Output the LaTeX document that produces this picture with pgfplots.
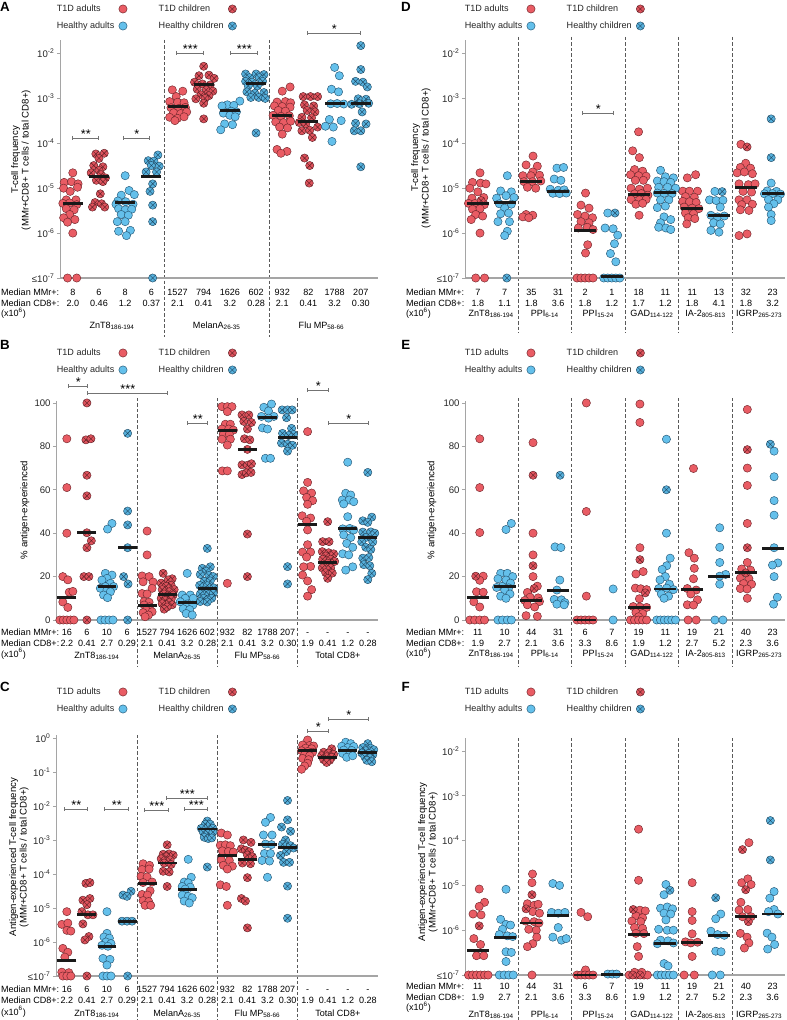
\documentclass[border=0pt]{standalone}
\usepackage{pgfplots}
\pgfplotsset{compat=1.18}
\usepackage{fontspec}
\setmainfont{Liberation Sans}

\definecolor{ta}{RGB}{233,92,100}
\definecolor{taE}{RGB}{115,40,45}
\definecolor{tc}{RGB}{222,82,92}
\definecolor{tcE}{RGB}{90,30,35}
\definecolor{ha}{RGB}{100,192,235}
\definecolor{haE}{RGB}{40,90,120}
\definecolor{hc}{RGB}{86,176,220}
\definecolor{hcE}{RGB}{30,70,95}
\definecolor{axgray}{RGB}{165,165,165}

\newcommand\fs{\fontsize{6.8}{8.2}\selectfont}
\newcommand\fl{\fontsize{7.2}{7.9}\selectfont}
\newcommand\lt[1]{10\textsuperscript{-#1}}

\pgfplotsset{
  panel/.style={
    scale only axis, clip=false, anchor=south west,
    axis x line=bottom, axis y line=left,
    axis line style={-, axgray, line width=1pt},
    every outer x axis line/.append style={-},
    every outer y axis line/.append style={-},
    xtick=\empty,
    tick align=outside, major tick length=3pt,
    tick style={axgray, line width=0.6pt},
    yticklabel style={font=\fl, text=black!85, inner sep=1.5pt},
    legend columns=2, legend plot pos=right, legend cell align=left,
    legend style={draw=none, fill=none, inner sep=0pt, outer sep=0pt,
      font=\fs, text=black!85, row sep=4.25pt, anchor=north west,
      nodes={inner sep=1pt, text height=5pt, text depth=1.5pt},
      /tikz/every odd column/.append style={column sep=2.4pt},
      /tikz/every even column/.append style={column sep=22.7pt}},
    legend image code/.code={\draw[##1] plot coordinates {(0pt,0pt)};},
  },
  sTA/.style={only marks, mark=*, mark size=3.1pt, draw=taE, fill=ta, mark options={line width=0.35pt}},
  sTC/.style={only marks, mark=otimes*, mark size=3.1pt, draw=tcE, fill=tc, mark options={line width=0.3pt}},
  sHA/.style={only marks, mark=*, mark size=3.1pt, draw=haE, fill=ha, mark options={line width=0.35pt}},
  sHC/.style={only marks, mark=otimes*, mark size=3.1pt, draw=hcE, fill=hc, mark options={line width=0.3pt}},
  med/.style={forget plot, only marks, mark=-, mark size=#1, draw=black!90, mark options={line width=2.2pt}},
}

% significance bracket: x1, x2, y (px), stars
\newcommand\brk[4]{%
  \draw[black!55, line width=0.5pt] (#1,#3-2) -- (#1,#3+2) (#1,#3) -- (#2,#3) (#2,#3-2) -- (#2,#3+2);
  \node[anchor=base, font=\fontsize{9.5}{9.5}\selectfont] at ({(#1+#2)/2},#3+0.5) {#4};}
% median rows: x0, dx, baseline y, MMr list, CD8 list, x of row titles
\newcommand\mrows[6]{%
  \foreach \v [count=\i from 0] in {#4} {\node[anchor=base] at (#1+#2*\i,#3) {\v};}
  \foreach \v [count=\i from 0] in {#5} {\node[anchor=base] at (#1+#2*\i,#3+11) {\v};}
  \node[anchor=base west] at (#6,#3) {Median MMr+:};
  \node[anchor=base west] at (#6,#3+11) {Median CD8+:};}

\begin{document}
\begin{tikzpicture}
\begin{scope}[x=0.75pt,y=-0.75pt]
\path[use as bounding box] (0,0) rectangle (786,1020);
\tikzset{dv/.style={black!65, line width=0.55pt, dash pattern=on 2.5pt off 1.6pt}}
% dividers
\foreach \x in {163.6,268.4} \draw[dv] (\x,40) -- (\x,337);
\foreach \x in {136.2,216.5,296.8} \draw[dv] (\x,398) -- (\x,667);
\foreach \x in {136.2,216.5,296.8} \draw[dv] (\x,735) -- (\x,1020);
\foreach \x in {517.2,570.8,624.4,678,731.6} \draw[dv] (\x,37) -- (\x,333);
\foreach \x in {517.2,570.8,624.4,678,731.6} \draw[dv] (\x,398) -- (\x,667);
\foreach \x in {517.2,570.8,624.4,678,731.6} \draw[dv] (\x,738) -- (\x,1020);
\end{scope}

% ---------------- A ----------------
\begin{axis}[panel, at={(45pt,-208.5pt)}, width=237.75pt, height=178.5pt,
  xmin=-0.458, xmax=11.65, ymode=log, ymin=1e-7, ymax=0.02, yminorticks=false,
  ytick={1e-7,1e-6,1e-5,1e-4,1e-3,1e-2},
  yticklabels={≤\lt7,\lt6,\lt5,\lt4,\lt3,\lt2},
  legend style={at={(-0.0167,1.1542)}}]
\addplot[sTA] coordinates {
 (0,2.2e-5)(-0.33,1.35e-5)(-0.05,1.4e-5)(0.2,1.25e-5)(-0.35,1.0e-5)(0.18,1.05e-5)(-0.1,8.5e-6)(-0.25,5.5e-6)(0.12,5.5e-6)(-0.38,4.6e-6)(-0.12,4.7e-6)(0.15,4.3e-6)(-0.25,3.5e-6)(0.05,3.3e-6)(-0.12,2.6e-6)(-0.35,2.2e-6)(0.08,2.0e-6)(-0.2,1.75e-6)(0,1e-6)(-0.2,1e-7)(0.15,1e-7)
 (3.8,1.55e-3)(4.2,1.45e-3)(3.95,1.1e-3)(3.7,8.5e-4)(4,8.2e-4)(4.25,8.0e-4)(3.75,6.2e-4)(4.05,6.0e-4)(4.3,6.3e-4)(3.85,4.8e-4)(4.12,4.6e-4)(4.35,5.0e-4)(3.7,3.8e-4)(4,3.6e-4)(4.25,3.9e-4)(3.9,3.2e-4)
 (8.3,1.8e-3)(8,1.45e-3)(7.8,8.3e-4)(8.12,8.5e-4)(8.32,8.0e-4)(7.7,6.8e-4)(8,6.6e-4)(8.3,6.4e-4)(7.85,5.4e-4)(8.12,5.2e-4)(7.65,4.2e-4)(7.95,4.0e-4)(8.27,4.1e-4)(7.75,3.0e-4)(8.05,2.9e-4)(8.32,3.1e-4)(7.9,2.3e-4)(8.2,2.2e-4)(8,1.6e-4)(7.8,7.3e-5)(8.18,6.6e-5)(7.95,6.0e-5)};
\addlegendentry{T1D adults}
\addplot[sTC] coordinates {
 (0.88,5.8e-5)(1.2,6.0e-5)(1,4.6e-5)(0.8,3.2e-5)(1.15,3.0e-5)(1,2.5e-5)(0.7,2.2e-5)(1.08,2.0e-5)(1.25,1.7e-5)(0.9,1.5e-5)(1.15,1.4e-5)(1.05,7.5e-6)(0.85,4.8e-6)(1.1,4.5e-6)(0.75,3.8e-6)(1.22,3.8e-6)
 (5,5.2e-3)(4.82,3.2e-3)(5.2,3.3e-3)(5.4,2.8e-3)(4.65,2.3e-3)(4.95,2.1e-3)(5.25,2.0e-3)(4.75,1.6e-3)(5.1,1.55e-3)(5.35,1.45e-3)(4.9,1.2e-3)(5.2,1.15e-3)(4.7,9.8e-4)(5.05,1.0e-3)(5,7.8e-4)(5,3.5e-4)
 (8.8,1.1e-3)(9.08,1.1e-3)(9.35,1.1e-3)(8.85,7.2e-4)(9.2,6.8e-4)(8.95,5.4e-4)(9.25,5.0e-4)(8.75,3.8e-4)(9.12,3.7e-4)(8.65,2.9e-4)(8.9,2.7e-4)(8.75,1.9e-4)(9.05,1.95e-4)(9.35,2.3e-4)(9.15,1.35e-4)(8.85,4.7e-5)(9.05,3.2e-5)(9.03,1.3e-5)};
\addlegendentry{T1D children}
\addplot[sHA] coordinates {
 (2,1.9e-5)(2.15,8.9e-6)(1.85,7.0e-6)(2.35,7.2e-6)(1.72,5.2e-6)(2.02,5.0e-6)(1.65,4.4e-6)(2.3,4.4e-6)(1.75,3.5e-6)(2.0,3.3e-6)(2.25,3.4e-6)(1.85,2.6e-6)(2.12,2.5e-6)(1.7,1.8e-6)(2,1.8e-6)(1.75,1.1e-6)(2.2,1.15e-6)(2.05,8.8e-7)
 (6.38,8.7e-4)(5.9,7.2e-4)(6.15,7.0e-4)(5.7,6.8e-4)(6.05,5.2e-4)(6.25,5.0e-4)(5.75,4.7e-4)(6,4.2e-4)(6.2,3.9e-4)(5.8,2.7e-4)(6.1,2.6e-4)(5.65,2.0e-4)
 (10,4.9e-3)(10.18,3.2e-3)(9.88,1.6e-3)(10.15,1.4e-3)(9.85,7.6e-4)(10.1,7.7e-4)(10.35,7.5e-4)(9.8,3.4e-4)(10.25,3.2e-4)(9.65,2.4e-4)(9.95,2.3e-4)(9.9,1.1e-4)};
\addlegendentry{Healthy adults}
\addplot[sHC] coordinates {
 (3.25,5.5e-5)(2.88,4.1e-5)(3.1,4.0e-5)(3,3.2e-5)(3.3,3.1e-5)(2.8,2.3e-5)(3.2,2.3e-5)(3.05,1.25e-5)(2.95,8.5e-6)(3.05,4.2e-6)(3.05,1.8e-6)(3.05,1e-7)
 (6.6,3.5e-3)(7,3.5e-3)(7.3,3.4e-3)(6.75,2.9e-3)(7.12,2.9e-3)(6.6,2.4e-3)(6.85,2.3e-3)(7.25,2.4e-3)(6.7,1.9e-3)(7.05,1.9e-3)(6.65,1.4e-3)(6.95,1.3e-3)(7.3,1.35e-3)(6.8,1.05e-3)(7.1,1.05e-3)(7.35,1.0e-3)(7,1.7e-4)
 (11,1.5e-2)(11,4.4e-3)(10.8,2.4e-3)(11.08,2.3e-3)(11.25,1.8e-3)(10.9,9.8e-4)(11.2,9.6e-4)(10.65,7.4e-4)(10.95,7.6e-4)(11.3,7.8e-4)(11.05,5.0e-4)(10.8,2.8e-4)(11.2,2.7e-4)(10.75,1.9e-4)(11,1.9e-4)(11,3.0e-5)};
\addlegendentry{Healthy children}
\addplot[med=7.5pt] coordinates {(0,4.5e-6)(1,1.8e-5)(2,4.7e-6)(3,1.8e-5)(4,6.5e-4)(5,2.0e-3)(6,5.3e-4)(7,2.1e-3)(8,4.2e-4)(9,3.1e-4)(10,7.7e-4)(11,7.7e-4)};
\end{axis}

% ---------------- B ----------------
\begin{axis}[panel, at={(42pt,-465pt)}, width=240.75pt, height=164.25pt,
  xmin=-0.5, xmax=15.5, ymin=0, ymax=100.9,
  ytick={0,20,40,60,80,100}, yticklabels={0,20,40,60,80,100},
  legend style={at={(-0.004,1.2452)}}]
\addplot[sTA] coordinates {
 (0,83.5)(0,61)(0,40)(-0.2,20)(0.05,18.5)(0.12,12.8)(0.3,13.2)(-0.2,8.3)(0.05,5.8)(-0.35,0)(-0.18,0)(0,0)(0.18,0)(0.35,0)
 (4,41)(4,30)(3.75,20.3)(4.1,20)(4.3,17.5)(3.8,17.6)(4.25,14.6)(3.75,12.2)(4,12)(3.85,8.5)(4.1,8.2)(3.85,6.9)(4.12,6.1)(3.95,4.6)(4.25,3.8)(3.8,3.4)(4.07,2.3)(3.9,1.5)
 (7.73,98.3)(8,98.3)(8.23,98.3)(8,96)(7.9,90.2)(8.15,90.2)(7.73,88)(8.07,88)(8.3,87.5)(7.8,85.6)(8.1,85.6)(7.73,83.3)(8.15,83.3)(8,80.6)(7.75,68.7)(8,68.7)(8,16.9)
 (12,86.8)(12,63.4)(11.8,59.5)(12.2,58.5)(11.95,56.5)(12.25,55)(12,53.3)(11.73,48)(12.15,47)(11.95,45.5)(12,41.5)(12,34.7)(11.75,31.3)(12.15,31.3)(11.95,29)(12.15,24.7)(11.8,24.5)(11.75,20.7)(12,18)(12.2,14)(12,11)};
\addlegendentry{T1D adults}
\addplot[sTC] coordinates {
 (1,100)(0.95,83)(1.2,83.5)(1,66.7)(1,57.2)(1,40.2)(1.22,36.5)(1,33.3)(0.85,20)(1.1,20)(1,0)
 (4.8,21.5)(5.25,19)(5.05,18.5)(4.7,17)(5.2,16)(4.95,15.5)(5.35,14)(4.75,14)(5.1,13)(4.85,12)(5.3,11.5)(5,11)(4.7,10)(5.2,9.5)(4.9,9)(5.1,8)(4.75,7.5)(5.25,7)(5,6)(4.85,5)
 (8.73,94.5)(9.07,94.5)(8.82,91.5)(9.2,91)(9,88)(8.85,83.5)(9.12,83)(9,78.6)(8.73,71.5)(9,71.3)(9.2,72)(8.73,67)(8.95,67.8)(9.18,68)(9,39.6)(9,20)
 (13,45.3)(12.75,36.1)(13.07,36.1)(12.73,31.5)(13.05,31)(13.3,30.5)(12.9,29.5)(12.75,28)(13.15,28)(13.35,27)(13,26.2)(12.73,24)(13.15,24)(12.9,21.8)(13.23,21.6)(13,19.2)};
\addlegendentry{T1D children}
\addplot[sHA] coordinates {
 (2.25,44.5)(2.03,41.9)(1.92,21.5)(2.25,20.7)(2,19.2)(1.75,18.4)(2.17,16.9)(1.92,15.4)(2.33,15.4)(1.67,14.6)(2,13.8)(2.17,13)(1.83,11.5)(2.03,10.3)(1.7,0)(1.9,0)(2.1,0)(2.3,0)
 (6,21.5)(5.75,11.5)(6.15,11.5)(5.9,10)(6.3,10)(5.65,8.4)(6,7.4)(6.28,6.9)(5.8,5.2)(6.12,4.8)(5.95,3)(6.25,2.3)
 (10.2,99.5)(9.82,98)(10.05,96.3)(9.7,93.8)(10.32,93.8)(10.05,93)(9.75,88.5)(10,88)(9.9,74.5)(10.15,74.5)
 (14,72.7)(13.9,58.4)(14.15,57.6)(13.73,55.3)(14.07,55.3)(14.3,54.5)(13.8,53.5)(14,47.6)(13.75,42)(14.1,42.2)(14.3,41.5)(13.8,39.2)(14.15,38)(13.95,35.3)(14.25,33.5)(13.75,30.5)(14.05,30)(14.25,24.5)(13.9,23)};
\addlegendentry{Healthy adults}
\addplot[sHC] coordinates {
 (3.03,86)(3.03,50.2)(3.03,43.8)(3.03,33.3)(2.83,20)(3.05,16.6)(3.03,0)
 (7,33)(7.15,24.5)(6.75,23.8)(6.95,22.5)(6.65,21)(7.08,20.5)(7.3,20)(6.85,17.8)(7.15,18)(6.62,16)(7,15.8)(7.32,14.8)(6.85,13.8)(6.65,12)(7.08,11.8)(7.3,12.3)(6.82,10)(7.22,10)(6.65,8.5)(7,8.3)
 (10.73,96.8)(11,96.8)(11.23,96.8)(10.95,93.2)(11.2,88.3)(10.75,86)(11.3,85.5)(11.05,85)(10.7,81.5)(11,81)(11.25,80.5)(11,77.8)(11,24.6)(11,16.6)
 (15,68)(14.75,45.7)(15.2,47.4)(15,45)(14.75,40.5)(15.15,40.6)(15.35,40)(14.9,38)(14.7,36)(15.25,36)(14.9,33.5)(15.15,32.5)(14.75,28.5)(15.05,28.8)(14.8,25.5)(15.1,25)(15.2,21.5)(15,18.6)};
\addlegendentry{Healthy children}
\addplot[med=7.1pt] coordinates {(0,10.5)(1,40.3)(2,15.6)(3,33.3)(4,6.6)(5,11.7)(6,8)(7,14.6)(8,87.5)(9,78.5)(10,93.4)(11,84)(12,44)(13,26.4)(14,42)(15,37.8)};
\end{axis}

% ---------------- C ----------------
\begin{axis}[panel, at={(42pt,-732pt)}, width=240.75pt, height=180.75pt,
  xmin=-0.5, xmax=15.5, ymode=log, ymin=1e-7, ymax=1.22, yminorticks=false,
  ytick={1e-7,1e-6,1e-5,1e-4,1e-3,1e-2,1e-1,1},
  yticklabels={≤\lt7,\lt6,\lt5,\lt4,\lt3,\lt2,\lt1,10\textsuperscript{0}},
  legend style={at={(-0.004,1.2021)}}]
\addplot[sTA] coordinates {
 (0,7.8e-6)(-0.25,3.3e-6)(0.05,3.6e-6)(0,2.2e-6)(0.2,2.1e-6)(-0.2,6.5e-7)(0.05,5e-7)(-0.1,3.6e-7)(-0.25,1.3e-7)(0.1,1.25e-7)(-0.2,1e-7)(0,1e-7)(0.2,1e-7)
 (3.8,2.0e-4)(4.12,1.8e-4)(3.75,1.35e-4)(4.1,1.4e-4)(3.7,8.5e-5)(4,8.2e-5)(3.8,5.6e-5)(4.25,5.8e-5)(4.15,3.2e-5)(3.75,2.5e-5)(4.02,2.4e-5)(3.8,1.65e-5)(4.08,1.55e-5)(3.9,1.2e-5)(4.18,1.2e-5)
 (7.7,1.6e-3)(8,1.4e-3)(7.65,7e-4)(7.9,7.2e-4)(8.15,6.8e-4)(7.75,4.8e-4)(8.05,4.6e-4)(8.3,4.4e-4)(7.7,2.6e-4)(8.1,2.5e-4)(7.8,1.8e-4)(8.25,1.7e-4)(8,1.4e-4)(7.65,4.8e-5)(7.95,4.3e-5)(8,1.2e-5)
 (12,0.87)(11.75,0.62)(12.1,0.6)(12.3,0.58)(11.9,0.5)(12.2,0.48)(11.7,0.42)(12,0.4)(12.25,0.38)(11.85,0.32)(12.1,0.3)(11.75,0.25)(12.05,0.23)(12,0.18)(11.85,0.15)(11.7,0.12)};
\addlegendentry{T1D adults}
\addplot[sTC] coordinates {
 (0.95,5.3e-5)(1.15,5.6e-5)(0.8,1.7e-5)(1.15,1.9e-5)(1,1.25e-5)(0.75,7.8e-6)(1.05,6.3e-6)(1.3,6.3e-6)(0.8,3.4e-6)(1.1,1.45e-6)(0.9,1.15e-6)(1,1e-7)
 (5,7.2e-4)(4.8,3.8e-4)(5.1,3.9e-4)(5.3,3.6e-4)(4.95,3.2e-4)(4.7,2.8e-4)(5.15,2.6e-4)(4.85,2.1e-4)(5.2,1.9e-4)(4.8,1.2e-4)(5.1,1.15e-4)(5,4.3e-5)
 (8.8,1.0e-3)(9.18,8.5e-4)(8.7,5.5e-4)(8.9,5.0e-4)(9.1,4.5e-4)(9,3.6e-4)(9.25,3.2e-4)(8.75,2.1e-4)(9.15,2.0e-4)(9,7.8e-5)(8.7,1.9e-5)(8.9,1.6e-5)(9,2.6e-6)
 (13.2,0.48)(12.8,0.38)(13.05,0.36)(13.3,0.33)(12.7,0.3)(12.95,0.28)(13.2,0.27)(12.8,0.23)(13.1,0.22)(12.95,0.19)};
\addlegendentry{T1D children}
\addplot[sHA] coordinates {
 (2,7.8e-6)(2,1.8e-6)(1.85,1.4e-6)(2.12,1.3e-6)(1.95,1.0e-6)(2.2,9e-7)(1.75,8e-7)(2.05,7.5e-7)(1.8,3.3e-7)(2.15,3.1e-7)(2,2.1e-7)(1.8,1e-7)(2,1e-7)(2.2,1e-7)
 (6.05,2.7e-4)(6.2,8.0e-5)(5.85,5.8e-5)(6.05,5.5e-5)(5.75,4.3e-5)(6.15,4.1e-5)(5.9,3.6e-5)(5.75,2.4e-5)(6.05,2.2e-5)(6.25,2.0e-5)(5.85,1.6e-5)(6.1,1.4e-5)
 (10.15,4.6e-3)(9.9,3.3e-3)(9.8,1.4e-3)(10.23,1.4e-3)(9.9,7.6e-4)(10.2,7.3e-4)(9.85,4.0e-4)(10.15,4.0e-4)(9.73,2.5e-4)(10.1,2.4e-4)(10,8e-5)
 (13.9,0.75)(14.15,0.68)(13.7,0.57)(14,0.52)(14.3,0.56)(13.8,0.44)(14.2,0.43)(13.75,0.35)(14.1,0.34)(13.95,0.27)(14.25,0.3)};
\addlegendentry{Healthy adults}
\addplot[sHC] coordinates {
 (3.2,3.1e-5)(2.8,2.4e-5)(3,2.2e-5)(2.75,4.1e-6)(3,4.1e-6)(3.25,4.1e-6)(3.03,1e-7)
 (7,3.6e-3)(6.9,2.9e-3)(7.15,2.9e-3)(6.7,2.2e-3)(7.28,2.2e-3)(6.8,1.7e-3)(7.05,1.6e-3)(7.28,1.7e-3)(6.85,1.2e-3)(7.05,1.1e-3)(7.22,1.15e-3)(7,1.6e-4)
 (11,1.45e-2)(11,3.9e-3)(10.7,2.4e-3)(11.15,1.8e-3)(10.9,1.0e-3)(10.75,7.5e-4)(11.15,6.8e-4)(11.3,5.8e-4)(10.95,4.6e-4)(10.65,3.5e-4)(10.8,2.2e-4)(11.1,2.2e-4)(11,4.4e-5)(11,5e-6)
 (15,0.68)(14.75,0.52)(15.15,0.5)(15.3,0.45)(14.9,0.42)(14.7,0.36)(15.05,0.35)(15.25,0.32)(14.85,0.28)(15.1,0.26)(14.95,0.22)(15.2,0.2)};
\addlegendentry{Healthy children}
\addplot[med=7.1pt] coordinates {(0,2.8e-7)(1,6.3e-6)(2,7.3e-7)(3,4.1e-6)(4,5.4e-5)(5,2.1e-4)(6,3.4e-5)(7,2.1e-3)(8,3.5e-4)(9,2.65e-4)(10,7.4e-4)(11,6e-4)(12,0.44)(13,0.27)(14,0.44)(15,0.38)};
\end{axis}

% ---------------- D ----------------
\begin{axis}[panel, at={(348.75pt,-208.5pt)}, width=239.25pt, height=178.5pt,
  xmin=-0.45, xmax=11.46, ymode=log, ymin=1e-7, ymax=0.02, yminorticks=false,
  ytick={1e-7,1e-6,1e-5,1e-4,1e-3,1e-2},
  yticklabels={≤\lt7,\lt6,\lt5,\lt4,\lt3,\lt2},
  legend style={at={(-0.0072,1.1542)}}]
\addplot[sTA] coordinates {
 (0.08,2.2e-5)(-0.2,1.35e-5)(0.1,1.3e-5)(0.3,1.25e-5)(-0.3,1.0e-5)(0,8.3e-6)(-0.22,6e-6)(0.22,6.2e-6)(-0.35,4.6e-6)(-0.1,4.6e-6)(0.24,4.3e-6)(-0.2,3.4e-6)(0.08,3.5e-6)(-0.08,2.6e-6)(0.18,2.4e-6)(-0.25,2.0e-6)(0.08,1.0e-6)(-0.08,1e-7)(0.25,1e-7)
 (2.06,5.2e-5)(1.8,3.3e-5)(2.22,3.1e-5)(2.05,2.3e-5)(1.68,1.9e-5)(1.98,1.9e-5)(2.3,1.95e-5)(1.72,1.4e-5)(2.04,1.4e-5)(2.35,1.45e-5)(1.85,1.05e-5)(2.16,1.0e-5)(1.8,2.6e-6)(2.05,2.5e-6)(1.68,2.3e-6)(1.9,2.2e-6)
 (4.02,7.8e-6)(3.85,4.2e-6)(4.15,3.6e-6)(3.72,2.6e-6)(4,2.4e-6)(4.28,2.2e-6)(3.85,1.8e-6)(4.15,1.7e-6)(3.75,1.3e-6)(4.08,1.35e-6)(4.3,1.2e-6)(4.1,5.5e-7)(4.02,3.6e-7)(3.7,1e-7)(3.85,1e-7)(4,1e-7)(4.15,1e-7)(4.3,1e-7)
 (6,1.8e-4)(5.78,6.8e-5)(6.03,4.8e-5)(5.85,2.6e-5)(6.15,2.4e-5)(5.7,2.0e-5)(6,1.9e-5)(6.28,1.85e-5)(5.88,1.5e-5)(6.18,1.5e-5)(5.72,1.0e-5)(6.03,9.5e-6)(6.33,1.0e-5)(5.85,7.5e-6)(6.1,7.6e-6)(6.35,7.0e-6)(5.72,5.6e-6)(6.03,5.5e-6)(6.28,5.6e-6)(5.9,4.4e-6)(6.15,4.6e-6)(6.02,2.5e-6)
 (8.13,2.0e-5)(7.82,1.7e-5)(7.65,8.6e-6)(7.9,8.6e-6)(8.2,8.6e-6)(7.75,6.5e-6)(8.08,6.3e-6)(7.65,5.1e-6)(7.9,5.0e-6)(8.15,4.8e-6)(7.7,3.8e-6)(8,3.6e-6)(8.25,3.5e-6)(7.75,2.8e-6)(8.05,2.7e-6)(7.85,2.2e-6)(8.1,2.1e-6)(7.8,1.6e-6)
 (9.82,9.5e-5)(10,3.6e-5)(9.8,2.9e-5)(10.18,2.8e-5)(9.68,2.2e-5)(9.95,2.3e-5)(10.25,2.1e-5)(9.75,1.25e-5)(10.1,1.2e-5)(10.35,1.25e-5)(9.9,8.5e-6)(10.22,8.2e-6)(9.75,5.5e-6)(10.05,5.5e-6)(9.85,4.3e-6)(10.25,4.4e-6)(9.8,3.3e-6)(10.12,3.2e-6)(9.75,8.8e-7)(10.05,9.6e-7)};
\addlegendentry{T1D adults}
\addplot[sTC] coordinates {(0.12,5.3e-6)(10.05,8.3e-5)};
\addlegendentry{T1D children}
\addplot[sHA] coordinates {
 (1.1,1.9e-5)(0.85,8.7e-6)(1.25,8.3e-6)(1.05,6.8e-6)(0.7,6e-6)(1.35,6.2e-6)(0.8,4.5e-6)(1.25,4.4e-6)(1,3.6e-6)(0.85,2.7e-6)(1.15,2.8e-6)(0.75,1.8e-6)(1.18,1.8e-6)(1.1,1.1e-6)(1,8.8e-7)
 (2.95,2.8e-5)(3.2,2.9e-5)(2.85,1.6e-5)(3.1,1.5e-5)(2.7,9.5e-6)(3,9e-6)(3.22,9.2e-6)(2.8,7.7e-6)(3.05,7.6e-6)(3.3,7.8e-6)
 (4.75,1.3e-6)(5.05,1.25e-6)(5.22,9e-7)(5.1,5.8e-7)(4.95,3.5e-7)(5.15,2.3e-7)(4.7,1e-7)(4.85,1e-7)(5,1e-7)(5.15,1e-7)(5.3,1e-7)(4.85,2.8e-6)
 (6.82,2.5e-5)(7,1.8e-5)(7.3,1.7e-5)(6.7,1.45e-5)(6.95,1.4e-5)(7.2,1.35e-5)(6.75,1.05e-5)(7.08,1.05e-5)(7.38,1.0e-5)(6.7,7.8e-6)(6.95,7.7e-6)(7.25,7.6e-6)(6.82,5.5e-6)(7.13,5.5e-6)(7,4.0e-6)(6.7,3.7e-6)(6.95,2.3e-6)(7.2,2.0e-6)(6.82,1.7e-6)(6.75,1.35e-6)(7.02,1.3e-6)(7.2,1.2e-6)
 (8.85,8.5e-6)(8.65,5.5e-6)(8.9,5.3e-6)(9.15,5.4e-6)(9.05,3.8e-6)(8.7,2.5e-6)(8.95,2.3e-6)(9.2,2.4e-6)(8.8,1.7e-6)(9.05,1.6e-6)(8.7,1.15e-6)(9,1.05e-6)
 (10.95,1.3e-5)(10.8,8.7e-6)(11.15,8.5e-6)(10.7,7.5e-6)(11,7.6e-6)(11.3,7.4e-6)(10.85,5.6e-6)(11.2,5.5e-6)(11.05,4.5e-6)(10.85,3.8e-6)(10.95,2.6e-6)(10.95,1.9e-6)};
\addlegendentry{Healthy adults}
\addplot[sHC] coordinates {(1.08,1e-7)(5.12,2.8e-6)(9.12,8.4e-6)(10.95,3.5e-4)(10.95,4.8e-5)};
\addlegendentry{Healthy children}
\addplot[med=8.25pt] coordinates {(0,4.5e-6)(1,4.7e-6)(2,1.4e-5)(3,8.5e-6)(4,1.15e-6)(5,1.1e-7)(6,7.2e-6)(7,8.1e-6)(8,3.6e-6)(9,2.5e-6)(10,1.05e-5)(11,7.7e-6)};
\end{axis}

% ---------------- E ----------------
\begin{axis}[panel, at={(348.75pt,-465pt)}, width=239.25pt, height=164.25pt,
  xmin=-0.45, xmax=11.46, ymin=0, ymax=100.9,
  ytick={0,20,40,60,80,100}, yticklabels={0,20,40,60,80,100},
  legend style={at={(-0.0072,1.2452)}}]
\addplot[sTA] coordinates {
 (0.07,83.5)(0.07,61)(0.07,40.3)(0.2,20.2)(0.07,18.3)(-0.05,13)(0.2,12.8)(-0.15,8.4)(0.07,6)(-0.3,0)(-0.12,0)(0.07,0)(0.25,0)
 (2.06,81.7)(2.06,40)(2.06,30)(2.06,20)(2.22,15.6)(1.85,12.7)(1.95,10.5)(2.25,10.2)(1.75,9)(2.3,8.5)(1.85,7)(2.12,6)(1.8,2)(2.22,1.7)
 (4.05,100)(4.05,50)(4.05,11)(3.7,0)(3.85,0)(4,0)(4.15,0)(4.3,0)
 (6.05,99.5)(6.05,91)(6.05,33.3)(6.17,22.3)(5.9,21.2)(5.88,14.7)(6.08,14.4)(6.3,14)(6.03,9.8)(5.8,6.2)(6.05,6)(6.3,5.8)(5.9,3.5)(6.15,3)(6,1.5)(5.7,0)(5.85,0)(6,0)(6.15,0)(6.3,0)
 (8.05,69.8)(7.88,31)(8.08,28.5)(8.08,23.8)(8.05,19)(7.82,14.5)(8.15,13.8)(7.95,12)(8.2,9.3)(7.82,7)(8.05,6.9)(7.85,0)(8.15,0)
 (10.06,97)(10.06,70)(10.06,62)(10.06,44.5)(10.06,26.5)(9.85,23.5)(10.18,23)(9.8,19.3)(10.12,19)(9.92,16.8)(10.22,16.5)(9.8,14.5)(10.05,14.3)(10.06,10)};
\addlegendentry{T1D adults}
\addplot[sTC] coordinates {(-0.08,20.2)(2.06,66.7)(2.06,25)(2.1,14.5)(6.05,27.8)(6.25,12.5)(10.06,78.5)(10.06,33.3)(10,21.7)};
\addlegendentry{T1D children}
\addplot[sHA] coordinates {
 (1.05,41.7)(1.25,44.5)(0.85,21.5)(1.1,21.5)(1.3,20)(0.75,19)(1.05,18.4)(1.22,17)(0.9,15.5)(0.7,15)(1.15,14.8)(1,13.8)(1.2,12)(0.85,11)(1.05,10)(0.75,0)(0.92,0)(1.1,0)(1.25,0)
 (2.88,33.7)(3.1,33.4)(3.06,18.4)(2.95,13.8)(2.85,9.5)(3.12,9.3)(3.25,8)(2.95,7.3)(3.22,7)
 (5.05,14.3)(5.05,0)
 (7.04,83.3)(7.04,40)(7.18,28.5)(7.05,25)(6.88,23.3)(7,20)(6.8,18.5)(7.15,16.5)(6.75,14.5)(7.05,14.7)(7.3,14)(6.85,12)(7.12,11)(6.95,10)(6.68,0)(6.82,0)(6.96,0)(7.1,0)(7.24,0)(7.38,0)
 (9.03,42.5)(9.03,33.5)(9.03,26.5)(9.25,21)(9.03,20.2)(9.03,16.5)(8.85,0)(9.15,0)
 (11.06,77.8)(11.06,66)(11.06,55)(11.06,48.3)(11.06,33.3)(11.2,26.3)(11,25.3)(11.06,20)(11.18,10.5)(11.04,7.3)};
\addlegendentry{Healthy adults}
\addplot[sHC] coordinates {(3.07,66.7)(7.04,60)(10.92,81)};
\addlegendentry{Healthy children}
\addplot[med=8.25pt] coordinates {(0,10.3)(1,15.4)(2,8.9)(3,13.6)(4,0)(6,5.8)(7,14.3)(8,14)(9,20.2)(10,21.8)(11,33)};
\end{axis}

% ---------------- F ----------------
\begin{axis}[panel, at={(348.75pt,-731.25pt)}, width=239.25pt, height=177.75pt,
  xmin=-0.45, xmax=11.46, ymode=log, ymin=1e-7, ymax=0.0195, yminorticks=false,
  ytick={1e-7,1e-6,1e-5,1e-4,1e-3,1e-2},
  yticklabels={≤\lt7,\lt6,\lt5,\lt4,\lt3,\lt2},
  legend style={at={(-0.0072,1.2181)}}]
\addplot[sTA] coordinates {
 (0.05,8.3e-6)(0.25,4.2e-6)(0.05,3.4e-6)(-0.18,2.3e-6)(0.12,2.2e-6)(-0.15,6.5e-7)(0.1,4.8e-7)(-0.05,2.7e-7)(0.22,2.7e-7)(-0.35,1e-7)(-0.2,1e-7)(-0.05,1e-7)(0.1,1e-7)(0.25,1e-7)(0.38,1e-7)
 (2.04,1.8e-5)(2.02,1.15e-5)(1.85,3.9e-6)(2.1,3.6e-6)(2.25,3.8e-6)(2.05,2.6e-6)(2.3,2.4e-6)(1.78,1.6e-6)(2.1,1.55e-6)(2.28,1.45e-6)(1.9,1.05e-6)(2.18,1.0e-6)(2.2,7e-7)(2.05,5e-7)(1.85,4.3e-7)(2.02,1e-7)
 (3.85,2.5e-6)(4.1,2.0e-6)(4.02,1.3e-7)(3.7,1e-7)(3.85,1e-7)(4,1e-7)(4.15,1e-7)(4.3,1e-7)
 (6,1.8e-4)(6,1.3e-5)(6.05,2.8e-6)(6.25,2.7e-6)(5.9,2.1e-6)(6.15,1.9e-6)(5.75,1.6e-6)(6.08,1.55e-6)(5.85,1.15e-6)(6.15,1.1e-6)(5.9,8.5e-7)(6.2,8.4e-7)(5.95,4.3e-7)(6,2.6e-7)(5.65,1e-7)(5.92,1e-7)(6.2,1e-7)(6.33,1e-7)(5.85,1.15e-7)(6.12,1.15e-7)
 (8,1.15e-5)(8,2.6e-6)(8,1.65e-6)(8,8.3e-7)(7.75,5.5e-7)(7.95,5.2e-7)(8.2,5.4e-7)(8,2.6e-7)(7.7,1e-7)(8.08,1e-7)
 (10.12,9e-5)(9.85,1.15e-5)(10.08,1.4e-5)(10.2,1.05e-5)(9.82,4.2e-6)(10.08,2.9e-6)(9.75,2.8e-6)(9.88,2.0e-6)(10.2,2.0e-6)(9.8,8.5e-7)(10.05,7e-7)(10.12,5.2e-7)(9.95,4e-7)};
\addlegendentry{T1D adults}
\addplot[sTC] coordinates {(0.05,1.25e-6)(2.02,6.2e-6)(1.8,3.0e-6)(5.8,2.9e-6)(5.78,1e-7)(6.06,1e-7)(9.88,6.3e-5)(10,8e-6)(10.1,1.55e-6)};
\addlegendentry{T1D children}
\addplot[sHA] coordinates {
 (1.05,8.2e-6)(0.85,1.75e-6)(1.05,1.35e-6)(1.22,1.3e-6)(0.92,1.05e-6)(0.8,8e-7)(1.1,7.5e-7)(1.3,7.2e-7)(1.05,3.3e-7)(1.25,3.2e-7)(1.05,2.0e-7)(0.8,1e-7)(0.98,1e-7)(1.15,1e-7)(1.32,1e-7)
 (2.8,1.1e-5)(3.05,1.0e-5)(2.75,2.5e-6)(3,2.4e-6)(3.25,2.5e-6)(3,1.15e-6)(2.8,7e-7)(3.12,6e-7)(3.3,6.5e-7)
 (4.85,1.05e-7)(5.02,1.05e-7)(5.18,1.05e-7)
 (7.02,1.05e-5)(6.95,6.2e-6)(6.82,3.1e-6)(7.07,3.3e-6)(7.27,3.0e-6)(6.95,2.4e-6)(7.2,2.3e-6)(7.02,1.7e-6)(6.75,1.05e-6)(7.07,1.0e-6)(7.3,1.0e-6)(6.82,6e-7)(7.1,5.8e-7)(6.7,5e-7)(7.3,5.2e-7)(6.95,1.8e-7)(7.1,1.6e-7)(6.7,1e-7)(6.85,1e-7)(7,1e-7)(7.15,1e-7)(7.3,1e-7)
 (9.07,2.3e-6)(8.88,1.8e-6)(8.7,9.5e-7)(8.95,8e-7)(9.2,7.7e-7)(8.88,3.4e-7)(9.08,3.3e-7)(8.75,1e-7)(9.05,1e-7)
 (11.06,7.3e-6)(10.9,5.2e-6)(11.06,2.9e-6)(10.85,2.6e-6)(11.2,2.3e-6)(10.8,8.6e-7)(10.98,7e-7)(11.08,4.8e-7)(10.82,3.8e-7)};
\addlegendentry{Healthy adults}
\addplot[sHC] coordinates {(7.17,7.8e-6)(8.88,5.3e-6)(10.92,2.8e-4)(10.92,3.7e-5)};
\addlegendentry{Healthy children}
\addplot[med=8.25pt] coordinates {(0,3.5e-7)(1,7e-7)(2,1.45e-6)(3,2.1e-6)(4,1e-7)(5,1.05e-7)(6,8e-7)(7,5.1e-7)(8,5.2e-7)(9,7.6e-7)(10,2e-6)(11,2.3e-6)};
\end{axis}

% ---------------- texts ----------------
\begin{scope}[x=0.75pt,y=-0.75pt, every node/.append style={inner sep=0pt}, font=\fs]
\tikzset{pl/.style={font=\bfseries\fontsize{10}{10}\selectfont}}
\node[pl] at (4,7) {A}; \node[pl] at (405,7) {D};
\node[pl] at (4,345) {B}; \node[pl] at (405,345) {E};
\node[pl] at (4,687) {C}; \node[pl] at (405,687) {F};
% y labels
\node[rotate=90, align=center, font=\fl] at (20,160) {T-cell frequency\\(MMr+CD8+ T cells / total CD8+)};
\node[rotate=90, align=center, font=\fl] at (420,158) {T-cell frequency\\(MMr+CD8+ T cells / total CD8+)};
\node[rotate=90, font=\fl] at (24,510) {\% antigen-experienced};
\node[rotate=90, font=\fl] at (431,510) {\% antigen-experienced};
\node[rotate=90, align=center, font=\fl] at (18,857) {Antigen-experienced T-cell frequency\\(MMr+CD8+ T cells / total CD8+)};
\node[rotate=90, align=center, font=\fl] at (427,862) {Antigen-experienced T-cell frequency\\(MMr+CD8+ T cells / total CD8+)};
% A rows
\mrows{72}{26.18}{295.3}{8,6,8,6,1527,794,1626,602,932,82,1788,207}{2.0,0.46,1.2,0.37,2.1,0.41,3.2,0.28,2.1,0.41,3.2,0.30}{0}
\node[anchor=base west] at (0,316.3) {(x10\textsuperscript{6})};
\node[anchor=base] at (111.3,328.3) {ZnT8\textsubscript{186-194}};
\node[anchor=base] at (216,328.3) {MelanA\textsubscript{26-35}};
\node[anchor=base] at (320.7,328.3) {Flu MP\textsubscript{58-66}};
% B rows
\mrows{66}{20.07}{635.3}{16,6,10,6,1527,794,1626,602,932,82,1788,207,-,-,-,-}{2.2,0.41,2.7,0.29,2.1,0.41,3.2,0.28,2.1,0.41,3.2,0.30,1.9,0.41,1.2,0.28}{0}
\node[anchor=base west] at (0,657) {(x10\textsuperscript{6})};
\node[anchor=base] at (96.1,658) {ZnT8\textsubscript{186-194}};
\node[anchor=base] at (176.4,658) {MelanA\textsubscript{26-35}};
\node[anchor=base] at (256.7,658) {Flu MP\textsubscript{58-66}};
\node[anchor=base] at (337,658) {Total CD8+};
% C rows
\mrows{66}{20.07}{992.3}{16,6,10,6,1527,794,1626,602,932,82,1788,207,-,-,-,-}{2.2,0.41,2.7,0.29,2.1,0.41,3.2,0.28,2.1,0.41,3.2,0.30,1.9,0.41,1.2,0.28}{0}
\node[anchor=base west] at (0,1015) {(x10\textsuperscript{6})};
\node[anchor=base] at (96.1,1016) {ZnT8\textsubscript{186-194}};
\node[anchor=base] at (176.4,1016) {MelanA\textsubscript{26-35}};
\node[anchor=base] at (256.7,1016) {Flu MP\textsubscript{58-66}};
\node[anchor=base] at (337,1016) {Total CD8+};
% D rows
\mrows{477}{26.8}{295.3}{7,7,35,31,2,1,18,11,11,13,32,23}{1.8,1.1,1.8,3.6,1.8,1.2,1.7,1.2,1.8,4.1,1.8,3.2}{405}
\node[anchor=base west] at (405,316.3) {(x10\textsuperscript{6})};
\newcommand\dnames[1]{%
  \node[anchor=base] at (490.4,#1) {ZnT8\textsubscript{186-194}};
  \node[anchor=base] at (544,#1) {PPI\textsubscript{6-14}};
  \node[anchor=base] at (597.6,#1) {PPI\textsubscript{15-24}};
  \node[anchor=base] at (651.2,#1) {GAD\textsubscript{114-122}};
  \node[anchor=base] at (704.8,#1) {IA-2\textsubscript{805-813}};
  \node[anchor=base] at (758.4,#1) {IGRP\textsubscript{265-273}};}
\dnames{316.3}
% E rows
\mrows{477}{26.8}{635.3}{11,10,44,31,6,7,19,11,19,21,40,23}{1.9,2.7,2.1,3.6,3.3,8.6,1.9,1.2,2.7,5.2,2.3,3.6}{405}
\node[anchor=base west] at (405,656.5) {(x10\textsuperscript{6})};
\dnames{656.5}
% F rows
\mrows{477}{26.8}{989.3}{11,10,44,31,6,7,19,11,19,21,40,23}{1.9,2.7,2.1,3.6,3.3,8.6,1.9,1.2,2.7,5.2,2.3,3.6}{405}
\node[anchor=base west] at (405,1010.5) {(x10\textsuperscript{6})};
\dnames{1017}
% significance brackets
\brk{72}{98}{138}{**} \brk{123}{149}{138}{*}
\brk{176}{203}{53}{***} \brk{230}{257}{53}{***} \brk{307}{360}{33}{*}
\brk{68}{87}{386}{*} \brk{87}{167}{393}{***} \brk{187}{207}{423}{**}
\brk{307}{328}{390}{*} \brk{328}{368}{423}{*}
\brk{64}{87}{809}{**} \brk{104}{128}{809}{**} \brk{144}{168}{810}{***}
\brk{166}{207}{798}{***} \brk{184}{207}{809}{***}
\brk{307}{328}{731}{*} \brk{328}{368}{719}{*}
\brk{582}{613}{113}{*}
\end{scope}
\end{tikzpicture}
\end{document}
